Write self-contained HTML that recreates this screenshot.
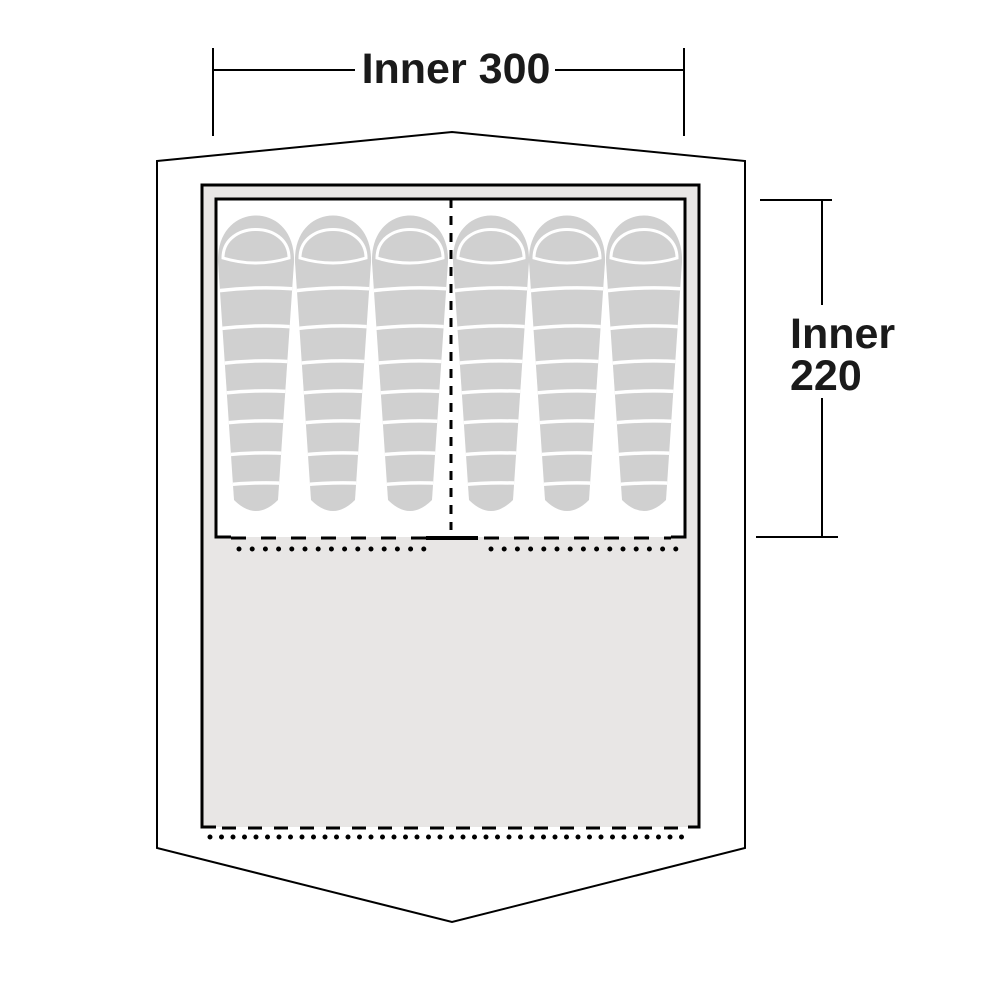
<!DOCTYPE html>
<html><head><style>body{margin:0;background:#fff}svg{display:block}</style></head>
<body>
<svg width="1000" height="1000" viewBox="0 0 1000 1000" xmlns="http://www.w3.org/2000/svg">
<defs>
<clipPath id="bc"><path d="M-38,262 C-40,200 40,200 38,262 L22,500 Q0,522 -22,500 Z"/></clipPath>
<g id="bag">
<path d="M-38,262 C-40,200 40,200 38,262 L22,500 Q0,522 -22,500 Z" fill="#d0d0d0"/>
<path d="M-33,258 C-33,220 33,220 33,258 Q0,268 -33,258 Z" fill="none" stroke="#fff" stroke-width="3"/>
<g stroke="#fff" stroke-width="3.5" fill="none" clip-path="url(#bc)">
<path d="M-40,291 Q0,286 40,289"/>
<path d="M-40,329 Q0,324 40,327"/>
<path d="M-40,364 Q0,359 40,362"/>
<path d="M-40,394 Q0,389 40,392"/>
<path d="M-40,424 Q0,419 40,422"/>
<path d="M-40,456 Q0,451 40,454"/>
<path d="M-40,486 Q0,481 40,484"/>
</g>
</g>
</defs>
<polygon points="157,161 452,132 745,161 745,848 452,922 157,848" fill="#fff" stroke="#000" stroke-width="2"/>
<rect x="202" y="185" width="497" height="642" fill="#e8e6e5"/>
<path d="M216,827 H202 V185 H699 V827 H688" fill="none" stroke="#000" stroke-width="3"/>
<line x1="222" y1="828" x2="688" y2="828" stroke="#000" stroke-width="3" stroke-dasharray="14,12"/>
<line x1="210" y1="837" x2="690" y2="837" stroke="#000" stroke-width="5" stroke-linecap="round" stroke-dasharray="0,11.5"/>
<rect x="216" y="199" width="469" height="338" fill="#fff"/>
<path d="M231,537 H216 V199 H685 V537 H671" fill="none" stroke="#000" stroke-width="3"/>
<line x1="231" y1="538" x2="426" y2="538" stroke="#000" stroke-width="3" stroke-dasharray="15,15"/>
<line x1="426" y1="538" x2="478" y2="538" stroke="#000" stroke-width="4"/>
<line x1="484" y1="538" x2="671" y2="538" stroke="#000" stroke-width="3" stroke-dasharray="15,15"/>
<line x1="239" y1="549" x2="428" y2="549" stroke="#000" stroke-width="5" stroke-linecap="round" stroke-dasharray="0,13.2"/>
<line x1="491" y1="549" x2="677" y2="549" stroke="#000" stroke-width="5" stroke-linecap="round" stroke-dasharray="0,13.2"/>
<use href="#bag" transform="translate(256,0)"/>
<use href="#bag" transform="translate(333,0)"/>
<use href="#bag" transform="translate(410,0)"/>
<use href="#bag" transform="translate(491,0)"/>
<use href="#bag" transform="translate(567,0)"/>
<use href="#bag" transform="translate(644,0)"/>
<line x1="451" y1="199" x2="451" y2="530" stroke="#000" stroke-width="3" stroke-dasharray="9,8"/>
<g stroke="#000" stroke-width="2">
<line x1="213" y1="48" x2="213" y2="136"/>
<line x1="684" y1="48" x2="684" y2="136"/>
<line x1="213" y1="70" x2="355" y2="70"/>
<line x1="555" y1="70" x2="684" y2="70"/>
<line x1="760" y1="200" x2="832" y2="200"/>
<line x1="756" y1="537" x2="838" y2="537"/>
<line x1="822" y1="200" x2="822" y2="305"/>
<line x1="822" y1="398" x2="822" y2="537"/>
</g>
<g font-family="Liberation Sans, sans-serif" font-weight="bold" font-size="43" fill="#1a1a1a">
<text x="456" y="83" text-anchor="middle">Inner 300</text>
<text x="790" y="348">Inner</text>
<text x="790" y="390">220</text>
</g>
</svg>
</body></html>
